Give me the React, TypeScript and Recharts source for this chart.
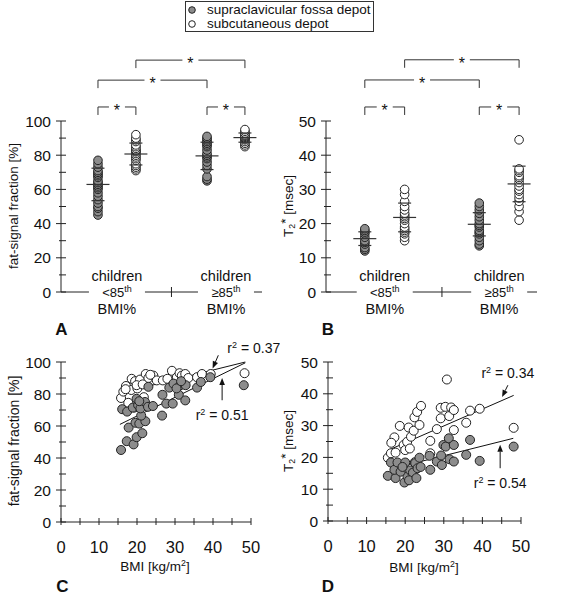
import { ScatterChart, Scatter, XAxis, YAxis, ReferenceLine } from "recharts";

const FONT = '"Liberation Sans", Arial, sans-serif';
const INK = "#222";
const GREY = "#8c8c8c";

// ---- panel A: fat-signal fraction [%] by group ----
const FSF_SUPRA_LOW = [45, 47, 49, 50, 52, 54, 56, 58, 60, 61, 62, 63, 64, 65, 67, 68, 69, 70, 71, 73, 75, 77];
const FSF_SUB_LOW = [71, 72, 73, 74, 75, 77, 78, 79, 80, 81, 82, 82.5, 83, 84, 85, 86, 88, 89, 90, 92];
const FSF_SUPRA_HIGH = [65, 66, 67.5, 72, 74, 76, 78, 79, 80, 81, 83, 85, 86, 87, 88, 89, 90, 91];
const FSF_SUB_HIGH = [85, 86, 87, 88, 89, 89.5, 90, 90.5, 91, 91.5, 92, 93, 94, 95];
const FSF_MEAN = [62.9, 80.7, 79.6, 90.3];
const FSF_SD = [9.5, 6.4, 8, 2.7];

// ---- panel B: T2* [msec] by group ----
const T2_SUPRA_LOW = [12, 12.5, 13, 14, 14.5, 15, 16, 17, 17.5, 18, 18.5];
const T2_SUB_LOW = [15, 16, 17, 17.5, 18, 18.5, 19, 20, 21, 21.5, 22, 22.5, 23, 24, 25, 26.5, 28.5, 30];
const T2_SUPRA_HIGH = [13.5, 14, 15, 16, 17, 17.5, 18, 19, 19.5, 20, 21, 22, 23, 24, 25, 26];
const T2_SUB_HIGH = [21, 23.5, 25, 26.5, 27.5, 28.5, 29.5, 30, 31, 32, 33, 33.5, 34, 35, 35.5, 36, 44.5];
const T2_MEAN = [15.6, 21.8, 19.8, 31.6];
const T2_SD = [2, 4.2, 3.4, 5.2];

const GROUP_LABELS = ["<85", "\u226585"];

// ---- panel C: BMI vs fat-signal fraction ----
const C_SUPRA: [number, number][] = [
  [15.8, 45], [17.3, 50.5], [19.1, 48.5], [19.9, 53], [21.4, 55.5], [17.8, 59], [19.6, 62], [20.6, 61.5],
  [22.2, 63], [21.1, 66.5], [26.6, 66.5], [16.1, 70.5], [17.4, 69], [18.9, 71.5], [20.3, 73], [20.9, 71],
  [22.1, 75], [19.9, 77], [20.6, 75.5], [22.9, 72], [24.2, 72.5], [27.7, 74], [29.4, 74], [31.0, 79.5],
  [32.7, 76], [26.7, 79.5], [23.0, 84.5], [28.5, 84], [29.6, 86.5], [31.4, 85.5], [32.8, 85.5], [30.4, 83.5],
  [35.8, 84], [36.8, 87.5], [39.3, 90.5], [48.1, 85.5], [31.6, 88],
];
const C_SUB: [number, number][] = [
  [15.8, 77.5], [16.4, 81.5], [17.1, 85], [18.5, 82.5], [18.6, 89.5], [17.7, 74.5], [19.5, 88], [20.1, 83.5],
  [20.8, 89], [22.3, 92.5], [23.0, 90], [24.3, 91.5], [19.9, 85.5], [21.5, 86], [25.2, 88.5], [26.8, 88.5],
  [29.2, 94.5], [30.5, 90.5], [31.2, 93], [31.8, 91.5], [32.7, 92.5], [33.5, 90], [35.8, 90.5], [37.1, 92.5],
  [39.4, 92.5], [48.3, 93], [19.3, 71.5], [21.8, 78], [17.0, 83], [28.0, 89.5], [23.5, 92],
];
const C_FIT_SUB: [number, number][] = [[15.5, 80.5], [48.5, 100]];
const C_FIT_SUPRA: [number, number][] = [[15.5, 61], [48.5, 99.5]];

// ---- panel D: BMI vs T2* ----
const D_SUPRA: [number, number][] = [
  [15.5, 14.2], [16.3, 18.4], [17.5, 13.5], [17.2, 16.1], [18.0, 18.4], [19.8, 12.1], [20.0, 18.4], [20.6, 14],
  [21.3, 15.9], [22.0, 15.2], [22.6, 18.2], [23.2, 16.6], [23.7, 19.9], [26.5, 16.1], [26.3, 20.5], [28.2, 18.7],
  [29.3, 20.6], [29.5, 17.6], [29.9, 23.9], [30.5, 23.4], [31.3, 26], [31.5, 19.4], [32.6, 23.9], [32.6, 18.7],
  [35.8, 20.8], [36.8, 25.5], [39.3, 18.9], [48.1, 23.4], [18.8, 15.5], [19.3, 17], [21.0, 12.8], [22.9, 13.5],
  [24.0, 17],
];
const D_SUB: [number, number][] = [
  [15.5, 19.9], [16.3, 21.3], [17.2, 26.3], [16.4, 24.6], [17.5, 21.5], [18.6, 29.9], [19.6, 23.9], [20.0, 22.3],
  [20.5, 24.9], [20.9, 29.4], [21.2, 22.8], [21.5, 26.5], [22.2, 28.4], [22.4, 32.6], [23.1, 34.3], [23.7, 30.2],
  [24.1, 36.2], [26.5, 25.2], [28.2, 28.9], [29.2, 35.6], [29.2, 32.3], [30.4, 35.9], [30.8, 44.5], [31.4, 33],
  [31.9, 35.7], [32.6, 34.9], [32.6, 28.6], [35.8, 30.9], [36.8, 34.7], [39.3, 35.3], [48.1, 29.3], [26.5, 21.3],
  [22.5, 18.5],
];
const D_FIT_SUB: [number, number][] = [[15.7, 22.3], [48.1, 39.5]];
const D_FIT_SUPRA: [number, number][] = [[16.1, 16.3], [48.0, 26]];

// layout of the strip panels (x units)
const COL_X = [1.95, 3.95, 7.7, 9.7];
const GROUP_X = [2.95, 8.7];
const MID_X = 5.825;
const BRACKETS: [number, number, "inner" | "mid" | "top"][] = [
  [0, 1, "inner"],
  [2, 3, "inner"],
  [0, 2, "mid"],
  [1, 3, "top"],
];

const range = (a: number, b: number, s: number) => {
  const out: number[] = [];
  for (let v = a; v <= b + 1e-9; v += s) out.push(v);
  return out;
};
const pts = (arr: [number, number][]) => arr.map(([x, y]) => ({ x, y }));

const dot = (fill: string, r: number) => (p: any) =>
  <circle cx={p.cx} cy={p.cy} r={r} fill={fill} stroke={INK} strokeWidth={1} />;
const hline = (w: number) => (p: any) =>
  <line x1={p.cx - w / 2} x2={p.cx + w / 2} y1={p.cy} y2={p.cy} stroke="#333" strokeWidth={1.2} />;

function makeYTick(labelEvery: number) {
  return (props: any) => {
    const { x, y, payload } = props;
    const v = payload.value;
    const major = Math.abs(v % labelEvery) < 1e-9;
    return (
      <g>
        <line x1={x - (major ? 5 : 2)} x2={x + 5} y1={y} y2={y} stroke={INK} />
        {major && (
          <text x={x - 10} y={y} dy="0.36em" textAnchor="end" fontSize={15.5} fill="#111">
            {v}
          </text>
        )}
      </g>
    );
  };
}

function makeXTick(labelEvery: number) {
  return (props: any) => {
    const { x, y, payload } = props;
    const v = payload.value;
    const major = Math.abs(v % labelEvery) < 1e-9;
    return (
      <g>
        <line x1={x} x2={x} y1={y - 4} y2={y + 3} stroke={INK} />
        {major && (
          <text x={x} y={y + 25} dy="0.36em" textAnchor="middle" fontSize={16.5} fill="#111">
            {v}
          </text>
        )}
      </g>
    );
  };
}

function GroupTick(props: any) {
  const { x, y, payload } = props;
  const i = GROUP_X.indexOf(payload.value);
  if (i < 0) return <line x1={x} x2={x} y1={y - 5} y2={y + 5} stroke={INK} />;
  return (
    <g fill="#111">
      <text x={x} y={y - 16} dy="0.36em" textAnchor="middle" fontSize={14.5}>children</text>
      <rect x={x - 28} y={y - 7} width={56} height={14} fill="#fff" />
      <text x={x} y={y} dy="0.36em" textAnchor="middle" fontSize={13}>
        {GROUP_LABELS[i]}
        <tspan fontSize={9} dy={-5}>th</tspan>
      </text>
      <text x={x} y={y + 17} dy="0.36em" textAnchor="middle" fontSize={14.5}>BMI%</text>
    </g>
  );
}

const bracketShape = (p: any) => {
  const { x1, y1, x2 } = p;
  const mid = (x1 + x2) / 2;
  return (
    <g>
      <path d={`M${x1},${y1 + 8}V${y1}H${mid - 8}M${mid + 8},${y1}H${x2}V${y1 + 8}`} fill="none" stroke="#333" />
      <text x={mid} y={y1 + 9} textAnchor="middle" fontSize={16} fill="#111">*</text>
    </g>
  );
};

function arrowShape(value: string, dx: number, dy: number, anchor: string) {
  return (p: any) => {
    const { x1, y1, x2, y2 } = p;
    const a = Math.atan2(y2 - y1, x2 - x1);
    const L = 7;
    const W = 2.8;
    const bx = x2 - L * Math.cos(a);
    const by = y2 - L * Math.sin(a);
    const px = -Math.sin(a) * W;
    const py = Math.cos(a) * W;
    return (
      <g>
        <line x1={x1} y1={y1} x2={bx} y2={by} stroke="#111" />
        <polygon points={`${x2},${y2} ${bx + px},${by + py} ${bx - px},${by - py}`} fill="#111" />
        <text x={x1 + dx} y={y1 + dy} dy="0.36em" textAnchor={anchor} fontSize={14} fill="#111">
          r<tspan fontSize={9} dy={-5}>2</tspan>
          <tspan dy={5}>{` = ${value}`}</tspan>
        </text>
      </g>
    );
  };
}

function StripPanel({
  cols,
  mean,
  sd,
  yMax,
  yStep,
  labelEvery,
  levels,
  axisWidth,
  right,
}: {
  cols: number[][];
  mean: number[];
  sd: number[];
  yMax: number;
  yStep: number;
  labelEvery: number;
  levels: Record<string, number>;
  axisWidth: number;
  right: number;
}) {
  const meanPts = mean.map((m, i) => ({ x: COL_X[i], y: m }));
  const sdPts = mean.flatMap((m, i) => [
    { x: COL_X[i], y: m + sd[i] },
    { x: COL_X[i], y: m - sd[i] },
  ]);
  return (
    <ScatterChart width={280} height={340} margin={{ top: 121, right, bottom: 0, left: 0 }}>
      <XAxis
        type="number"
        dataKey="x"
        domain={[0, 10.6]}
        ticks={[GROUP_X[0], MID_X, GROUP_X[1]]}
        interval={0}
        height={48}
        tickSize={0}
        tickMargin={0}
        tickLine={false}
        axisLine={{ stroke: INK }}
        tick={GroupTick}
      />
      <YAxis
        type="number"
        dataKey="y"
        domain={[0, yMax]}
        ticks={range(0, yMax, yStep)}
        interval={0}
        width={axisWidth}
        tickSize={0}
        tickMargin={0}
        tickLine={false}
        axisLine={{ stroke: INK }}
        tick={makeYTick(labelEvery)}
      />
      {cols.map((vals, i) => (
        <Scatter
          key={i}
          data={vals.map((v) => ({ x: COL_X[i], y: v }))}
          shape={dot(i % 2 === 0 ? GREY : "#fff", 4.3)}
          isAnimationActive={false}
        />
      ))}
      <Scatter data={meanPts} shape={hline(23)} isAnimationActive={false} />
      <Scatter data={sdPts} shape={hline(13)} isAnimationActive={false} />
      {BRACKETS.map(([a, b, lvl], i) => (
        <ReferenceLine
          key={`b${i}`}
          segment={[
            { x: COL_X[a], y: levels[lvl] },
            { x: COL_X[b], y: levels[lvl] },
          ]}
          ifOverflow="visible"
          shape={bracketShape}
        />
      ))}
    </ScatterChart>
  );
}

type Arrow = { from: [number, number]; to: [number, number]; value: string; dx: number; dy: number; anchor: string };

const C_ARROWS: Arrow[] = [
  { from: [41.4, 104.2], to: [39.9, 96], value: "0.37", dx: 9, dy: -7, anchor: "start" },
  { from: [42.4, 76.1], to: [42.4, 90], value: "0.51", dx: 0, dy: 15, anchor: "middle" },
];
const D_ARROWS: Arrow[] = [
  { from: [46.6, 42.7], to: [45.1, 39], value: "0.34", dx: 0, dy: -12, anchor: "middle" },
  { from: [44.6, 16.6], to: [44.6, 24], value: "0.54", dx: 0, dy: 15, anchor: "middle" },
];

function ScatterPanel({
  supra,
  sub,
  fitSupra,
  fitSub,
  arrows,
  yMax,
  yStep,
  labelEvery,
  axisWidth,
  right,
  xHeight,
}: {
  supra: [number, number][];
  sub: [number, number][];
  fitSupra: [number, number][];
  fitSub: [number, number][];
  arrows: Arrow[];
  yMax: number;
  yStep: number;
  labelEvery: number;
  axisWidth: number;
  right: number;
  xHeight: number;
}) {
  return (
    <ScatterChart width={280} height={299} margin={{ top: 62, right, bottom: 0, left: 0 }}>
      <XAxis
        type="number"
        dataKey="x"
        domain={[0, 50]}
        ticks={range(0, 50, 5)}
        interval={0}
        height={xHeight}
        tickSize={0}
        tickMargin={0}
        tickLine={false}
        axisLine={{ stroke: INK }}
        tick={makeXTick(10)}
      />
      <YAxis
        type="number"
        dataKey="y"
        domain={[0, yMax]}
        ticks={range(0, yMax, yStep)}
        interval={0}
        width={axisWidth}
        tickSize={0}
        tickMargin={0}
        tickLine={false}
        axisLine={{ stroke: INK }}
        tick={makeYTick(labelEvery)}
      />
      <Scatter data={pts(sub)} shape={dot("#fff", 4.5)} isAnimationActive={false} />
      <Scatter data={pts(supra)} shape={dot(GREY, 4.5)} isAnimationActive={false} />
      {[fitSub, fitSupra].map((f, i) => (
        <ReferenceLine key={`f${i}`} segment={pts(f)} ifOverflow="visible" stroke="#111" strokeWidth={1} />
      ))}
      {arrows.map((a, i) => (
        <ReferenceLine
          key={`a${i}`}
          segment={[
            { x: a.from[0], y: a.from[1] },
            { x: a.to[0], y: a.to[1] },
          ]}
          ifOverflow="visible"
          shape={arrowShape(a.value, a.dx, a.dy, a.anchor)}
        />
      ))}
    </ScatterChart>
  );
}

function Txt({ x, y, size, bold, rotate, children }: any) {
  return (
    <div
      style={{
        position: "absolute",
        left: x,
        top: y,
        transform: `translate(-50%, -50%)${rotate ? " rotate(-90deg)" : ""}`,
        fontSize: size,
        fontWeight: bold ? 700 : 400,
        lineHeight: 1,
        whiteSpace: "nowrap",
        color: "#111",
      }}
    >
      {children}
    </div>
  );
}

const supStyle = { fontSize: "0.65em", verticalAlign: "0.55em", lineHeight: 0 } as const;
const subStyle = { fontSize: "0.65em", verticalAlign: "-0.3em", lineHeight: 0 } as const;

function T2Title() {
  return (
    <>
      T<span style={subStyle}>2</span>
      <span style={{ verticalAlign: "0.2em" }}>*</span> [msec]
    </>
  );
}

function BmiTitle() {
  return (
    <>
      BMI [kg/m<span style={supStyle}>2</span>]
    </>
  );
}

export default function App() {
  return (
    <div
      style={{
        position: "absolute",
        left: 0,
        top: 0,
        width: 563,
        height: 599,
        background: "#fff",
        fontFamily: FONT,
        overflow: "hidden",
      }}
    >
      <div style={{ position: "absolute", left: 0, top: 0 }}>
        <StripPanel
          cols={[FSF_SUPRA_LOW, FSF_SUB_LOW, FSF_SUPRA_HIGH, FSF_SUB_HIGH]}
          mean={FSF_MEAN}
          sd={FSF_SD}
          yMax={100}
          yStep={10}
          labelEvery={20}
          levels={{ inner: 108.2, mid: 123.9, top: 135.6 }}
          axisWidth={61}
          right={18}
        />
      </div>
      <div style={{ position: "absolute", left: 280, top: 0 }}>
        <StripPanel
          cols={[T2_SUPRA_LOW, T2_SUB_LOW, T2_SUPRA_HIGH, T2_SUB_HIGH]}
          mean={T2_MEAN}
          sd={T2_SD}
          yMax={50}
          yStep={5}
          labelEvery={10}
          levels={{ inner: 54.1, mid: 62.0, top: 67.9 }}
          axisWidth={46}
          right={23}
        />
      </div>
      <div style={{ position: "absolute", left: 0, top: 300 }}>
        <ScatterPanel
          supra={C_SUPRA}
          sub={C_SUB}
          fitSupra={C_FIT_SUPRA}
          fitSub={C_FIT_SUB}
          arrows={C_ARROWS}
          yMax={100}
          yStep={10}
          labelEvery={20}
          axisWidth={61}
          right={29}
          xHeight={77}
        />
      </div>
      <div style={{ position: "absolute", left: 280, top: 300 }}>
        <ScatterPanel
          supra={D_SUPRA}
          sub={D_SUB}
          fitSupra={D_FIT_SUPRA}
          fitSub={D_FIT_SUB}
          arrows={D_ARROWS}
          yMax={50}
          yStep={5}
          labelEvery={10}
          axisWidth={48}
          right={39}
          xHeight={78}
        />
      </div>

      {/* legend */}
      <div
        style={{
          position: "absolute",
          left: 185,
          top: 1,
          width: 189,
          height: 31,
          border: "1px solid #333",
          boxSizing: "border-box",
          fontSize: 13.5,
          lineHeight: "14px",
          paddingTop: 1,
          color: "#111",
        }}
      >
        {[
          { fill: GREY, label: "supraclavicular fossa depot" },
          { fill: "#fff", label: "subcutaneous depot" },
        ].map((r) => (
          <div key={r.label} style={{ display: "flex", alignItems: "center", height: 14 }}>
            <svg width={20} height={14}>
              <circle cx={6} cy={7} r={3.3} fill={r.fill} stroke={INK} />
            </svg>
            <span style={{ marginLeft: 1 }}>{r.label}</span>
          </div>
        ))}
      </div>

      {/* axis titles */}
      <Txt x={14} y={206} size={13.5} rotate>
        fat-signal fraction [%]
      </Txt>
      <Txt x={287} y={206} size={13.5} rotate>
        <T2Title />
      </Txt>
      <Txt x={14} y={441} size={14} rotate>
        fat-signal fraction [%]
      </Txt>
      <Txt x={287} y={441} size={13.5} rotate>
        <T2Title />
      </Txt>
      <Txt x={155} y={567} size={13.5}>
        <BmiTitle />
      </Txt>
      <Txt x={424} y={568} size={13.5}>
        <BmiTitle />
      </Txt>

      {/* panel letters */}
      <Txt x={61.5} y={329} size={17} bold>A</Txt>
      <Txt x={328} y={329} size={17} bold>B</Txt>
      <Txt x={62.5} y={586} size={17} bold>C</Txt>
      <Txt x={328} y={586} size={17} bold>D</Txt>
    </div>
  );
}
